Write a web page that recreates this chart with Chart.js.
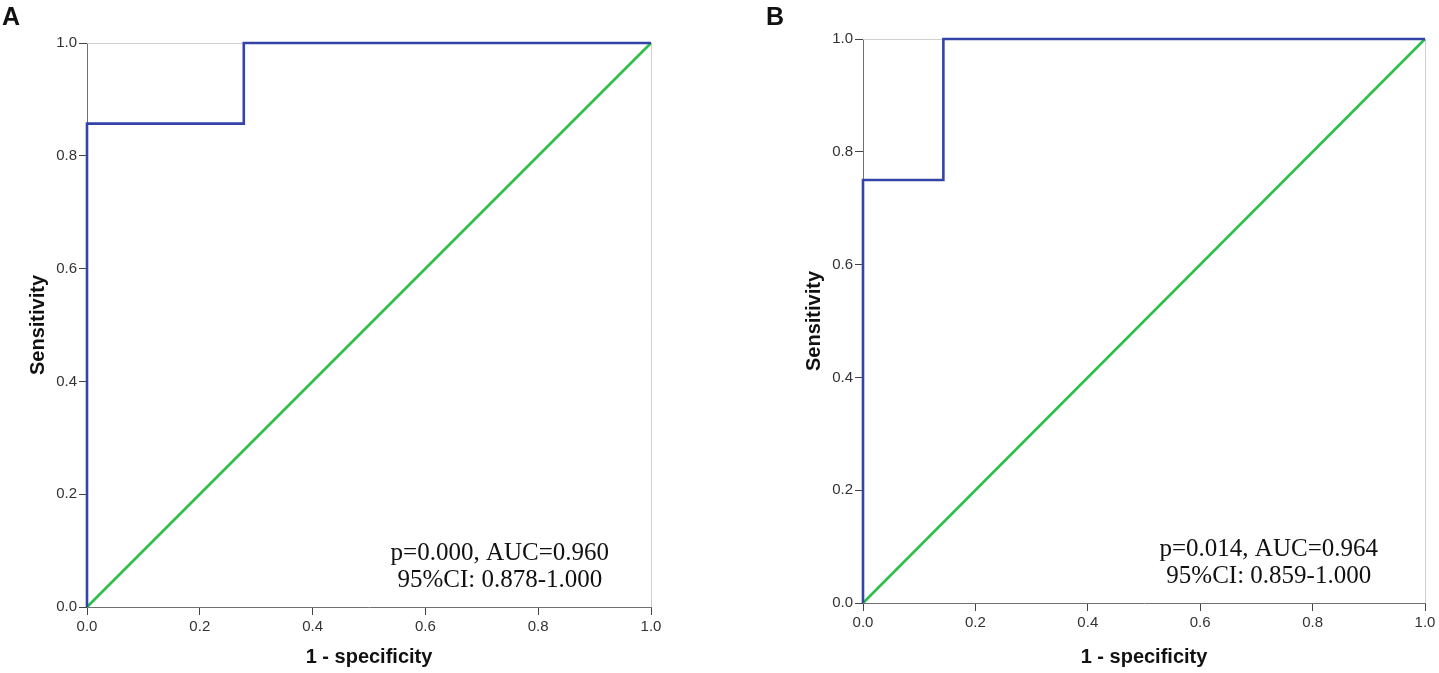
<!DOCTYPE html>
<html>
<head>
<meta charset="utf-8">
<script src="https://cdn.jsdelivr.net/npm/chart.js@4"></script>
<style>
  html, body { margin: 0; padding: 0; background: #fff; }
  body { width: 1439px; height: 673px; position: relative; overflow: hidden; }
  .panel { position: absolute; top: 0; height: 673px; }
  .tag { position: absolute; top: 2px; font: bold 25px "Liberation Sans", Arial, sans-serif; color: #111; }
</style>
</head>
<body>
<div class="panel" style="left:0;width:700px"><canvas id="rocA"></canvas></div>
<div class="panel" style="left:720px;width:719px"><canvas id="rocB"></canvas></div>
<div class="tag" style="left:2px">A</div>
<div class="tag" style="left:766px">B</div>
<script>
// ROC curve points (1 - specificity, sensitivity)
const rocA_fpr = [0, 0, 0.278, 0.278, 1];
const rocA_tpr = [0, 0.857, 0.857, 1, 1];
const rocB_fpr = [0, 0, 0.143, 0.143, 1];
const rocB_tpr = [0, 0.75, 0.75, 1, 1];
const refLine = [0, 1];
const tickValues = [0, 0.2, 0.4, 0.6, 0.8, 1.0];
const statsA = ["p=0.000, AUC=0.960", "95%CI: 0.878-1.000"];
const statsB = ["p=0.014, AUC=0.964", "95%CI: 0.859-1.000"];

const sans = "'Liberation Sans', Arial, sans-serif";

function toPoints(xs, ys) {
    return xs.map((x, i) => ({ x: x, y: ys[i] }));
}

// light frame on top/right plus the stats text
const framePlugin = {
    id: "frame",
    beforeDatasetsDraw(chart) {
        const { ctx, chartArea: a } = chart;
        ctx.save();
        ctx.strokeStyle = "#d0d0d0";
        ctx.lineWidth = 1;
        ctx.beginPath();
        ctx.moveTo(a.left, a.top + 0.5);
        ctx.lineTo(a.right + 0.5, a.top + 0.5);
        ctx.lineTo(a.right + 0.5, a.bottom);
        ctx.stroke();
        ctx.restore();
    },
    afterDraw(chart, args, opts) {
        const { ctx, scales } = chart;
        const cx = scales.x.getPixelForValue(opts.cx);
        const cy = scales.y.getPixelForValue(opts.cy);
        ctx.save();
        ctx.fillStyle = "#111";
        ctx.font = "25px 'Liberation Serif', 'Times New Roman', serif";
        ctx.textAlign = "center";
        ctx.textBaseline = "middle";
        opts.lines.forEach((t, i) => ctx.fillText(t, cx, cy + i * 27));
        ctx.restore();
    }
};

function makeRoc(id, fpr, tpr, stats, pad, yWidth, xHeight, textX) {
    const ctx = document.getElementById(id).getContext("2d");
    new Chart(ctx, {
        type: "scatter",
        data: {
            datasets: [
                {
                    data: toPoints(fpr, tpr),
                    showLine: true,
                    borderColor: "#3443a8",
                    borderWidth: 2.6,
                    pointRadius: 0,
                    clip: 6
                },
                {
                    data: toPoints(refLine, refLine),
                    showLine: true,
                    borderColor: "#2cbf4a",
                    borderWidth: 2.6,
                    pointRadius: 0,
                    clip: 6
                }
            ]
        },
        options: {
            responsive: true,
            maintainAspectRatio: false,
            animation: false,
            layout: { padding: pad },
            plugins: {
                legend: { display: false },
                tooltip: { enabled: false },
                frame: { lines: stats, cx: textX, cy: 0.095 }
            },
            scales: {
                x: {
                    type: "linear",
                    min: 0,
                    max: 1,
                    afterBuildTicks: s => { s.ticks = tickValues.map(v => ({ value: v })); },
                    afterFit: s => { s.height = xHeight; },
                    ticks: {
                        callback: v => v.toFixed(1),
                        color: "#333",
                        font: { family: sans, size: 15 },
                        padding: 3,
                        maxRotation: 0
                    },
                    grid: { drawOnChartArea: false, drawTicks: true, tickLength: 8, color: "#444" },
                    border: { display: true, color: "#707070", width: 1 },
                    title: {
                        display: true,
                        text: "1 - specificity",
                        color: "#111",
                        font: { family: sans, size: 20, weight: "bold" }
                    }
                },
                y: {
                    type: "linear",
                    min: 0,
                    max: 1,
                    afterBuildTicks: s => { s.ticks = tickValues.map(v => ({ value: v })); },
                    afterFit: s => { s.width = yWidth; },
                    ticks: {
                        callback: v => v.toFixed(1),
                        color: "#333",
                        font: { family: sans, size: 15 },
                        padding: 2
                    },
                    grid: { drawOnChartArea: false, drawTicks: true, tickLength: 8, color: "#444" },
                    border: { display: true, color: "#707070", width: 1 },
                    title: {
                        display: true,
                        text: "Sensitivity",
                        color: "#111",
                        font: { family: sans, size: 20, weight: "bold" }
                    }
                }
            }
        },
        plugins: [framePlugin]
    });
}

makeRoc("rocA", rocA_fpr, rocA_tpr, statsA,
    { left: 22, right: 49, top: 43, bottom: 0 }, 65, 66, 0.732);
makeRoc("rocB", rocB_fpr, rocB_tpr, statsB,
    { left: 78, right: 14, top: 39, bottom: 0 }, 65, 70, 0.722);
</script>
</body>
</html>
